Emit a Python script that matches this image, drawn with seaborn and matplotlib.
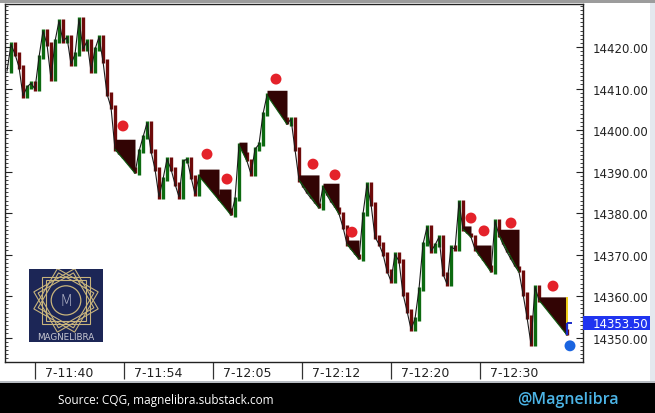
import numpy as np
import matplotlib
matplotlib.use("Agg")
import matplotlib.pyplot as plt
import matplotlib.transforms as mtrans
from matplotlib.ticker import MultipleLocator, FixedLocator, FormatStrFormatter
from matplotlib.patches import Rectangle, Polygon, Circle
import seaborn as sns

# bar closes, one bar every ~4 px of the reference
closes = [
    14414.2, 14420.7, 14418.3, 14415.2, 14408.2, 14410.4, 14411.3, 14409.9, 14417.6, 14423.9,
    14420.7, 14412.3, 14421.4, 14426.3, 14421.4, 14422.4, 14415.9, 14418.3, 14426.7, 14419.5,
    14421.4, 14414.2, 14419.5, 14422.4, 14416.6, 14408.7, 14405.5, 14395.4, 14394.2, 14393.3,
    14392.3, 14391.1, 14389.6, 14394.9, 14398.3, 14401.7, 14394.9, 14390.6, 14383.9, 14388.2,
    14393.0, 14390.6, 14387.0, 14383.9, 14392.5, 14393.0, 14388.7, 14384.6, 14388.9, 14388.2,
    14387.2, 14385.8, 14384.6, 14383.1, 14382.2, 14381.2, 14379.5, 14383.4, 14396.4, 14394.7,
    14392.5, 14389.4, 14395.4, 14396.6, 14403.9, 14408.4, 14407.5, 14406.0, 14404.6, 14403.1,
    14401.4, 14402.7, 14395.4, 14388.0, 14386.3, 14384.8, 14383.6, 14382.4, 14381.2, 14386.3,
    14384.3, 14382.7, 14381.4, 14379.8, 14376.6, 14372.5, 14371.3, 14370.1, 14368.9, 14379.8,
    14387.0, 14382.2, 14374.2, 14372.5, 14370.1, 14366.0, 14363.6, 14370.1, 14368.4, 14360.5,
    14356.4, 14352.0, 14354.5, 14361.7, 14372.5, 14376.6, 14370.8, 14372.3, 14374.2, 14365.3,
    14362.9, 14371.8, 14371.3, 14382.7, 14376.1, 14375.2, 14374.2, 14371.3, 14369.9, 14368.7,
    14367.5, 14365.8, 14378.1, 14374.7, 14372.5, 14370.6, 14368.9, 14367.2, 14365.8, 14360.5,
    14354.9, 14348.4, 14362.2, 14359.0, 14358.6, 14357.3, 14356.1, 14354.9, 14353.5, 14352.0,
    14350.6,
]
last_price = 14353.50

# sell signal wedges: start bar, end bar, entry level
sig_start = [27, 48, 53, 58, 65, 73, 79, 85, 114, 117, 123, 133]
sig_end = [32, 53, 56, 60, 70, 78, 83, 88, 116, 121, 128, 140]
sig_level = [14397.8, 14390.6, 14385.8, 14397.1, 14409.6, 14389.2, 14387.2,
             14373.5, 14376.9, 14372.3, 14376.1, 14359.8]

# red signal dots
dot_x = [29, 50, 55, 67.25, 76.5, 82, 86.25, 116, 119.25, 126, 136.5]
dot_y = [14401.0, 14394.2, 14388.2, 14412.3, 14391.8, 14389.2, 14375.4,
         14378.8, 14375.7, 14377.6, 14362.4]
blue_dot_x = [140.75]
blue_dot_y = [14348.0]

price_ticks = [14350, 14360, 14370, 14380, 14390, 14400, 14410, 14420]
time_sep = [7, 29.25, 51.5, 73.75, 96, 118.25]
time_pos = [15.5, 37.75, 60, 82.25, 104.5, 126.75]
time_labels = ["7-11:40", "7-11:54", "7-12:05", "7-12:12", "7-12:20", "7-12:30"]

sns.set_style("white")
plt.rcParams['font.family'] = ['DejaVu Sans']

fig = plt.figure(figsize=(6.55, 4.14), dpi=100)
fig.patch.set_facecolor("white")
W, H = 655, 414
ax = fig.add_axes([5 / W, 51 / H, 578 / W, 358 / H])

c = np.array(closes)
xs = np.arange(len(c))

# bars from previous close to close; no wick inside a signal wedge
in_sig = np.zeros(len(c), dtype=bool)
for s, e in zip(sig_start, sig_end):
    in_sig[s + 1:e + 1] = True
wick = np.where(in_sig[1:], 0.0, 0.5)
lo = np.minimum(c[:-1], c[1:]) - wick
hi = np.maximum(c[:-1], c[1:]) + wick
cols = np.where(c[1:] >= c[:-1], "#0c6a10", "#6e0a0a")
ax.vlines(xs[1:], lo, hi, colors=cols, lw=2.4, zorder=2)
sns.lineplot(x=xs, y=c, ax=ax, color="#1a1a1a", lw=0.8, sort=False, zorder=2.5)

# wedges: entry level on top, straight run down to the price at the end
for s, e, lvl in zip(sig_start, sig_end, sig_level):
    ax.fill_between([s, e], [lvl, lvl], [c[s], c[e]], color="#320404", lw=0, zorder=3)
    ax.plot([s, e], [c[s], c[e]], color="#0c5a10", lw=0.8, zorder=3.1)

# current bar
ax.vlines(xs[-1], c[-1], last_price, colors="#1a2cc8", lw=1.6, zorder=4)
ax.vlines(xs[-1], last_price, sig_level[-1], colors="#f2d21a", lw=1.4, zorder=4)
ax.hlines(last_price, xs[-1], xs[-1] + 1.3, colors="#1a2cc8", lw=1.4, zorder=4)

sns.scatterplot(x=dot_x, y=dot_y, ax=ax, color="#e4222a", s=62, edgecolor="none",
                zorder=5, legend=False)
sns.scatterplot(x=blue_dot_x, y=blue_dot_y, ax=ax, color="#1a64e0", s=62,
                edgecolor="none", zorder=5, legend=False)

ax.set_xlim(-0.5, 144)
ax.set_ylim(14344.1, 14430.4)

# y axis on the right, ticks on both sides
ax.yaxis.set_major_locator(FixedLocator(price_ticks))
ax.yaxis.set_minor_locator(MultipleLocator(1))
ax.yaxis.set_major_formatter(FormatStrFormatter("%.2f"))
ax.tick_params(axis="y", which="both", direction="in", left=True, right=True,
               labelleft=False, labelright=True, colors="#222222")
ax.tick_params(axis="y", which="major", length=5, width=0.8, labelsize=8.5, pad=7)
ax.tick_params(axis="y", which="minor", length=2.5, width=0.6)

# x axis: separators as minor ticks, labels as major ticks
ax.xaxis.set_major_locator(FixedLocator(time_pos))
ax.xaxis.set_minor_locator(FixedLocator(time_sep))
ax.set_xticklabels(time_labels)
ax.tick_params(axis="x", which="both", bottom=True, top=False)
ax.tick_params(axis="x", which="major", length=0, labelsize=9, pad=3, colors="#222222")
ax.tick_params(axis="x", which="minor", direction="out", length=12.5, width=0.9,
               color="#333333")
ax.set_xlabel("")
ax.set_ylabel("")
for sp in ax.spines.values():
    sp.set_visible(True)
    sp.set_color("#222222")
    sp.set_linewidth(1.0)

# current price tag
tr = mtrans.blended_transform_factory(ax.transAxes, ax.transData)
ax.add_patch(Rectangle((1.0, last_price - 1.65), 69 / 578, 3.3, transform=tr,
                       facecolor="#2034f0", edgecolor="none", clip_on=False, zorder=6))
ax.text(1.0 + 10 / 578, last_price, f"{last_price:.2f}", transform=tr, color="white",
        fontsize=8.5, va="center", ha="left", zorder=7)

# frame decorations
fig.patches.append(Rectangle((0, (H - 4) / H), 1, 4 / H, transform=fig.transFigure,
                             facecolor="#9c9c9c", edgecolor="none"))
fig.patches.append(Rectangle((0, 0), 1, 30 / H, transform=fig.transFigure,
                             facecolor="black", edgecolor="none"))
fig.patches.append(Rectangle((0, 30 / H), 1, 2 / H, transform=fig.transFigure,
                             facecolor="#b8bcc2", edgecolor="none"))
fig.patches.append(Rectangle((650 / W, 32 / H), 5 / W, 378 / H, transform=fig.transFigure,
                             facecolor="#e4e8ee", edgecolor="none"))

fig.text(58 / W, 13 / H, "Source: CQG, magnelibra.substack.com", color="white",
         fontsize=8.5, va="center", ha="left", family=["Open Sans", "DejaVu Sans"])
fig.text(517 / W, 14 / H, "@Magnelibra", color="#4cb4e6", fontsize=11.5,
         va="center", ha="left", family=["Open Sans", "DejaVu Sans"], weight="semibold")

# logo
lg = fig.add_axes([29 / W, 71 / H, 74 / W, 73 / H])
lg.set_facecolor("#1c2656")
lg.set_xlim(0, 1)
lg.set_ylim(0, 1)
lg.set_xticks([])
lg.set_yticks([])
for sp in lg.spines.values():
    sp.set_visible(False)
cx, cy = 0.5, 0.57
for ang in [0, 30, 60]:
    for r in [0.45, 0.39]:
        t = np.deg2rad(np.array([45, 135, 225, 315]) + ang)
        pts = np.column_stack([cx + r * np.cos(t), cy + r * np.sin(t)])
        lg.add_patch(Polygon(pts, closed=True, fill=False, edgecolor="#c8b47c", lw=0.8))
lg.add_patch(Circle((cx, cy), 0.2, fill=False, edgecolor="#c8b47c", lw=0.9))
lg.text(cx, cy, "M", color="#b4b6c8", fontsize=11, ha="center", va="center",
        weight="light")
lg.text(0.5, 0.07, "MAGNELIBRA", color="#c8c8d2", fontsize=6.3, ha="center", va="center")

fig.savefig("out.png", dpi=100)
